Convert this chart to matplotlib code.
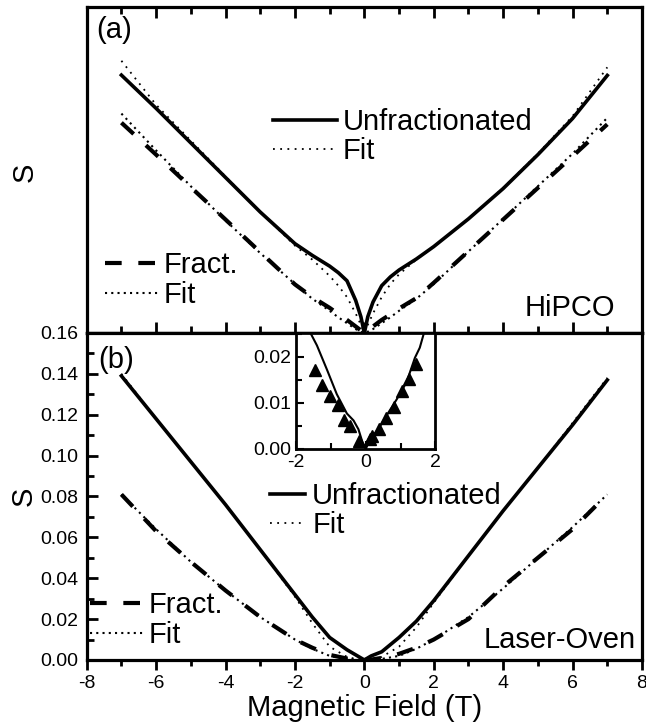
import numpy as np
import matplotlib
matplotlib.use("Agg")
import matplotlib.pyplot as plt
from matplotlib.ticker import MultipleLocator, FormatStrFormatter

plt.rcParams['font.family'] = ['Liberation Sans', 'DejaVu Sans']
plt.rcParams['axes.unicode_minus'] = False

# (a) HiPCO, arbitrary units (panel height = 1)
B_hi = [-7, -6, -5, -4, -3, -2, -1.5, -1, -0.75, -0.5, -0.25, -0.1, 0,
        0.1, 0.25, 0.5, 0.75, 1, 1.5, 2, 3, 4, 5, 6, 7]
unfrac_hi = [0.791, 0.689, 0.583, 0.477, 0.371, 0.274, 0.238, 0.205, 0.185, 0.16, 0.10, 0.05, 0.0,
             0.05, 0.095, 0.145, 0.172, 0.193, 0.227, 0.265, 0.35, 0.443, 0.547, 0.658, 0.79]
unfrac_fit_hi = [0.835, 0.70, 0.59, 0.48, 0.372, 0.268, 0.225, 0.175, 0.145, 0.11, 0.06, 0.025, 0.0,
                 0.025, 0.06, 0.11, 0.15, 0.18, 0.225, 0.265, 0.35, 0.445, 0.55, 0.665, 0.815]
frac_hi = [0.645, 0.547, 0.447, 0.348, 0.248, 0.149, 0.11, 0.077, 0.058, 0.04, 0.02, 0.008, 0.0,
           0.008, 0.02, 0.04, 0.057, 0.075, 0.107, 0.154, 0.251, 0.348, 0.445, 0.542, 0.64]
frac_fit_hi = [0.673, 0.56, 0.45, 0.345, 0.245, 0.15, 0.105, 0.068, 0.048, 0.03, 0.012, 0.004, 0.0,
               0.004, 0.012, 0.03, 0.048, 0.068, 0.105, 0.15, 0.25, 0.35, 0.45, 0.55, 0.66]

# (b) Laser-Oven
B_lo = [-7, -6, -5, -4, -3, -2, -1.5, -1, -0.5, -0.2, 0,
        0.2, 0.5, 1, 1.5, 2, 3, 4, 5, 6, 7]
unfrac_lo = [0.139, 0.118, 0.097, 0.076, 0.054, 0.032, 0.021, 0.011, 0.005, 0.002, 0.0,
             0.002, 0.004, 0.011, 0.019, 0.029, 0.051, 0.073, 0.094, 0.115, 0.137]
unfrac_fit_lo = [0.140, 0.118, 0.097, 0.076, 0.054, 0.031, 0.018, 0.0065, 0.0015, 0.0003, 0.0,
                 0.0003, 0.0015, 0.0065, 0.016, 0.028, 0.051, 0.073, 0.094, 0.116, 0.138]
frac_lo = [0.081, 0.063, 0.048, 0.034, 0.021, 0.010, 0.006, 0.0025, 0.0007, 0.0002, 0.0,
           0.0002, 0.001, 0.003, 0.006, 0.010, 0.020, 0.036, 0.050, 0.064, 0.081]
frac_fit_lo = [0.081, 0.064, 0.048, 0.034, 0.021, 0.010, 0.0055, 0.002, 0.0005, 0.0001, 0.0,
               0.0001, 0.0005, 0.002, 0.0055, 0.010, 0.021, 0.035, 0.050, 0.065, 0.081]

# inset: low field part of (b)
B_in = [-1.64, -1.4, -1.11, -0.83, -0.54, -0.35, -0.21, -0.07, 0, 0.12, 0.36, 0.6, 0.89, 1.17, 1.41, 1.55, 1.7]
S_in = [0.026, 0.0225, 0.0172, 0.0119, 0.0077, 0.0062, 0.0043, 0.0009, 0.0, 0.002, 0.0043, 0.0073,
        0.0108, 0.0145, 0.0198, 0.022, 0.026]
B_tri = [-1.46, -1.24, -1.03, -0.80, -0.62, -0.44, -0.20, 0.12, 0.19, 0.37, 0.59, 0.80, 1.04, 1.24, 1.45]
S_tri = [0.0171, 0.0140, 0.0116, 0.0096, 0.0064, 0.0051, 0.0018, 0.0022, 0.0029, 0.0043,
         0.0067, 0.0091, 0.0127, 0.0152, 0.0184]

fs_big = 21
fs_tick = 14

fig = plt.figure(figsize=(6.46, 7.27), dpi=100)
ax1 = fig.add_axes([0.1342, 0.5420, 0.8596, 0.4484])
ax2 = fig.add_axes([0.1342, 0.0922, 0.8596, 0.4498])

for ax in (ax1, ax2):
    for sp in ax.spines.values():
        sp.set_linewidth(2.3)
    ax.set_xlim(-8, 8)
    ax.xaxis.set_major_locator(MultipleLocator(2))
    ax.xaxis.set_minor_locator(MultipleLocator(1))

# top panel
ax1.plot(B_hi, unfrac_hi, color='black', lw=2.6, label='Unfractionated')
ax1.plot(B_hi, unfrac_fit_hi, color='black', lw=1.3, ls=(0, (1, 3)), label='Fit')
ax1.plot(B_hi, frac_hi, color='black', lw=3, ls=(0, (4, 4)), label='Fract.')
ax1.plot(B_hi, frac_fit_hi, color='black', lw=1.5, ls=(0, (1, 2)), label='Fit')
ax1.set_ylim(0, 1)
ax1.set_yticks([])
ax1.tick_params(axis='x', which='both', direction='in', top=True, bottom=True,
                labelbottom=False, width=2)
ax1.tick_params(axis='x', which='major', length=8)
ax1.tick_params(axis='x', which='minor', length=5)
# the shared border gets ticks pointing down as well
sec = ax1.secondary_xaxis('bottom')
sec.xaxis.set_major_locator(MultipleLocator(2))
sec.xaxis.set_minor_locator(MultipleLocator(1))
sec.tick_params(axis='x', which='both', direction='out', width=2, labelbottom=False)
sec.tick_params(axis='x', which='major', length=8)
sec.tick_params(axis='x', which='minor', length=5)
sec.spines['bottom'].set_linewidth(2.3)
h, l = ax1.get_legend_handles_labels()
leg1 = ax1.legend(h[:2], l[:2], loc='upper left', bbox_to_anchor=(0.3355, 0.69),
                  frameon=False, fontsize=fs_big, handlelength=2.2, handletextpad=0.2,
                  labelspacing=0.05, borderpad=0, borderaxespad=0)
ax1.add_artist(leg1)
ax1.legend(h[2:], l[2:], loc='upper left', bbox_to_anchor=(0.033, 0.25),
           frameon=False, fontsize=fs_big, handlelength=1.8, handletextpad=0.2,
           labelspacing=0.05, borderpad=0, borderaxespad=0)
ax1.text(0.018, 0.93, '(a)', transform=ax1.transAxes, fontsize=fs_big, va='center', ha='left')
ax1.text(0.951, 0.077, 'HiPCO', transform=ax1.transAxes, fontsize=fs_big, va='center', ha='right')

# bottom panel
ax2.plot(B_lo, unfrac_lo, color='black', lw=2.6, label='Unfractionated')
ax2.plot(B_lo, unfrac_fit_lo, color='black', lw=1.3, ls=(0, (1, 3)), label='Fit')
ax2.plot(B_lo, frac_lo, color='black', lw=3, ls=(0, (4, 4)), label='Fract.')
ax2.plot(B_lo, frac_fit_lo, color='black', lw=1.5, ls=(0, (1, 2)), label='Fit')
ax2.set_ylim(0, 0.16)
ax2.yaxis.set_major_locator(MultipleLocator(0.02))
ax2.yaxis.set_minor_locator(MultipleLocator(0.01))
ax2.yaxis.set_major_formatter(FormatStrFormatter('%.2f'))
ax2.tick_params(axis='y', which='both', direction='in', width=2, labelsize=fs_tick, pad=6)
ax2.tick_params(axis='y', which='major', length=8)
ax2.tick_params(axis='y', which='minor', length=5)
ax2.tick_params(axis='x', which='both', direction='out', top=False, width=2, labelsize=fs_tick)
ax2.tick_params(axis='x', which='major', length=7)
ax2.tick_params(axis='x', which='minor', length=4)
h, l = ax2.get_legend_handles_labels()
leg2 = ax2.legend(h[:2], l[:2], loc='upper left', bbox_to_anchor=(0.330, 0.545),
                  frameon=False, fontsize=fs_big, handlelength=1.2, handletextpad=0.25,
                  labelspacing=0.05, borderpad=0, borderaxespad=0)
ax2.add_artist(leg2)
ax2.legend(h[2:], l[2:], loc='upper left', bbox_to_anchor=(0.006, 0.21),
           frameon=False, fontsize=fs_big, handlelength=1.8, handletextpad=0.2,
           labelspacing=0.05, borderpad=0, borderaxespad=0)
ax2.text(0.020, 0.917, '(b)', transform=ax2.transAxes, fontsize=fs_big, va='center', ha='left')
ax2.text(0.989, 0.061, 'Laser-Oven', transform=ax2.transAxes, fontsize=fs_big, va='center', ha='right')
ax2.set_xlabel('Magnetic Field (T)', fontsize=fs_big, labelpad=2)

fig.text(0.038, 0.763, 'S', rotation=90, fontsize=fs_big, va='center', ha='center')
fig.text(0.036, 0.318, 'S', rotation=90, fontsize=fs_big, va='center', ha='center')

# inset
axi = fig.add_axes([0.4582, 0.3824, 0.2159, 0.1596])
axi.plot(B_in, S_in, color='black', lw=1.5)
axi.plot(B_tri, S_tri, ls='none', marker='^', ms=8, color='black')
axi.set_xlim(-2, 2)
axi.set_ylim(0, 0.0252)
axi.xaxis.set_major_locator(MultipleLocator(2))
axi.xaxis.set_minor_locator(MultipleLocator(1))
axi.yaxis.set_major_locator(MultipleLocator(0.01))
axi.yaxis.set_minor_locator(MultipleLocator(0.005))
axi.yaxis.set_major_formatter(FormatStrFormatter('%.2f'))
axi.tick_params(which='both', direction='in', width=1.5, labelsize=fs_tick)
axi.tick_params(which='major', length=6)
axi.tick_params(which='minor', length=4)
for sp in axi.spines.values():
    sp.set_linewidth(2)

fig.savefig('out.png', dpi=100)
